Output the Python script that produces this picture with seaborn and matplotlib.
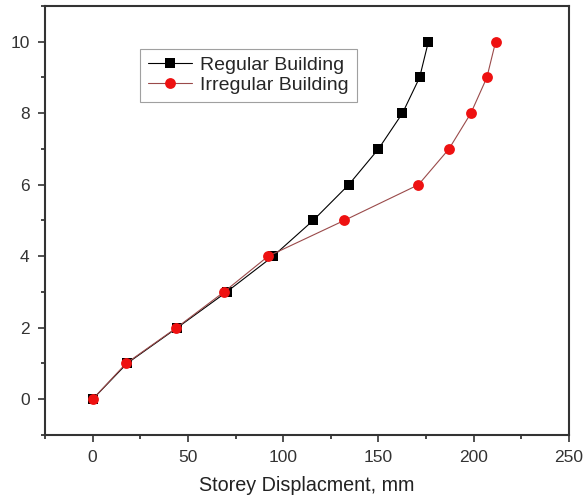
import matplotlib
matplotlib.use("Agg")
import matplotlib.pyplot as plt
import seaborn as sns
import pandas as pd
from matplotlib.ticker import MultipleLocator

sns.set_theme(style="white")
plt.rcParams['font.family'] = ['Liberation Sans', 'DejaVu Sans']

storey = [0, 1, 2, 3, 4, 5, 6, 7, 8, 9, 10]
regular = [0, 18, 44.4, 70.3, 94.7, 115.7, 134.4, 150, 162.6, 171.6, 176.2]
irregular = [0, 17.5, 44, 68.9, 92.1, 132, 171, 187, 198.5, 206.9, 211.5]
labels = ["Regular Building", "Irregular Building"]

fig = plt.figure(figsize=(5.87, 4.99), dpi=100)
ax = fig.add_axes([0.0767, 0.1283, 0.8926, 0.8597])

df_r = pd.DataFrame({"x": regular, "y": storey})
df_i = pd.DataFrame({"x": irregular, "y": storey})

sns.lineplot(data=df_r, x="x", y="y", ax=ax, color="black", marker="s",
             markersize=6.8, markeredgewidth=0, linewidth=0.8, sort=False,
             label=labels[0], markerfacecolor="black")
sns.lineplot(data=df_i, x="x", y="y", ax=ax, color="#9a4a4a", marker="o",
             markersize=7.8, markeredgewidth=0, linewidth=0.8, sort=False,
             label=labels[1], markerfacecolor="#ee1111")

ax.set_xlim(-25, 250)
ax.set_ylim(-1, 11)
ax.xaxis.set_major_locator(MultipleLocator(50))
ax.xaxis.set_minor_locator(MultipleLocator(25))
ax.yaxis.set_major_locator(MultipleLocator(2))
ax.yaxis.set_minor_locator(MultipleLocator(1))
ax.tick_params(which="major", direction="out", length=5, width=1.2,
               bottom=True, left=True, top=False, right=False,
               labelsize=12.5, colors="#333333", pad=6)
ax.tick_params(which="minor", direction="out", length=3, width=1.2,
               bottom=True, left=True, top=False, right=False)
for s in ax.spines.values():
    s.set_color("#333333")
    s.set_linewidth(1.5)

ax.set_xlabel("Storey Displacment, mm", fontsize=14.2, color="#222222", labelpad=8)
ax.set_ylabel("")

leg = ax.legend(loc="upper left", bbox_to_anchor=(0.181, 0.9), fontsize=14,
                frameon=True, fancybox=False, edgecolor="#888888",
                handlelength=2.3, borderpad=0.4, labelspacing=0.12,
                handletextpad=0.4, borderaxespad=0)
leg.get_frame().set_linewidth(0.8)

fig.savefig("out.png", dpi=100)
